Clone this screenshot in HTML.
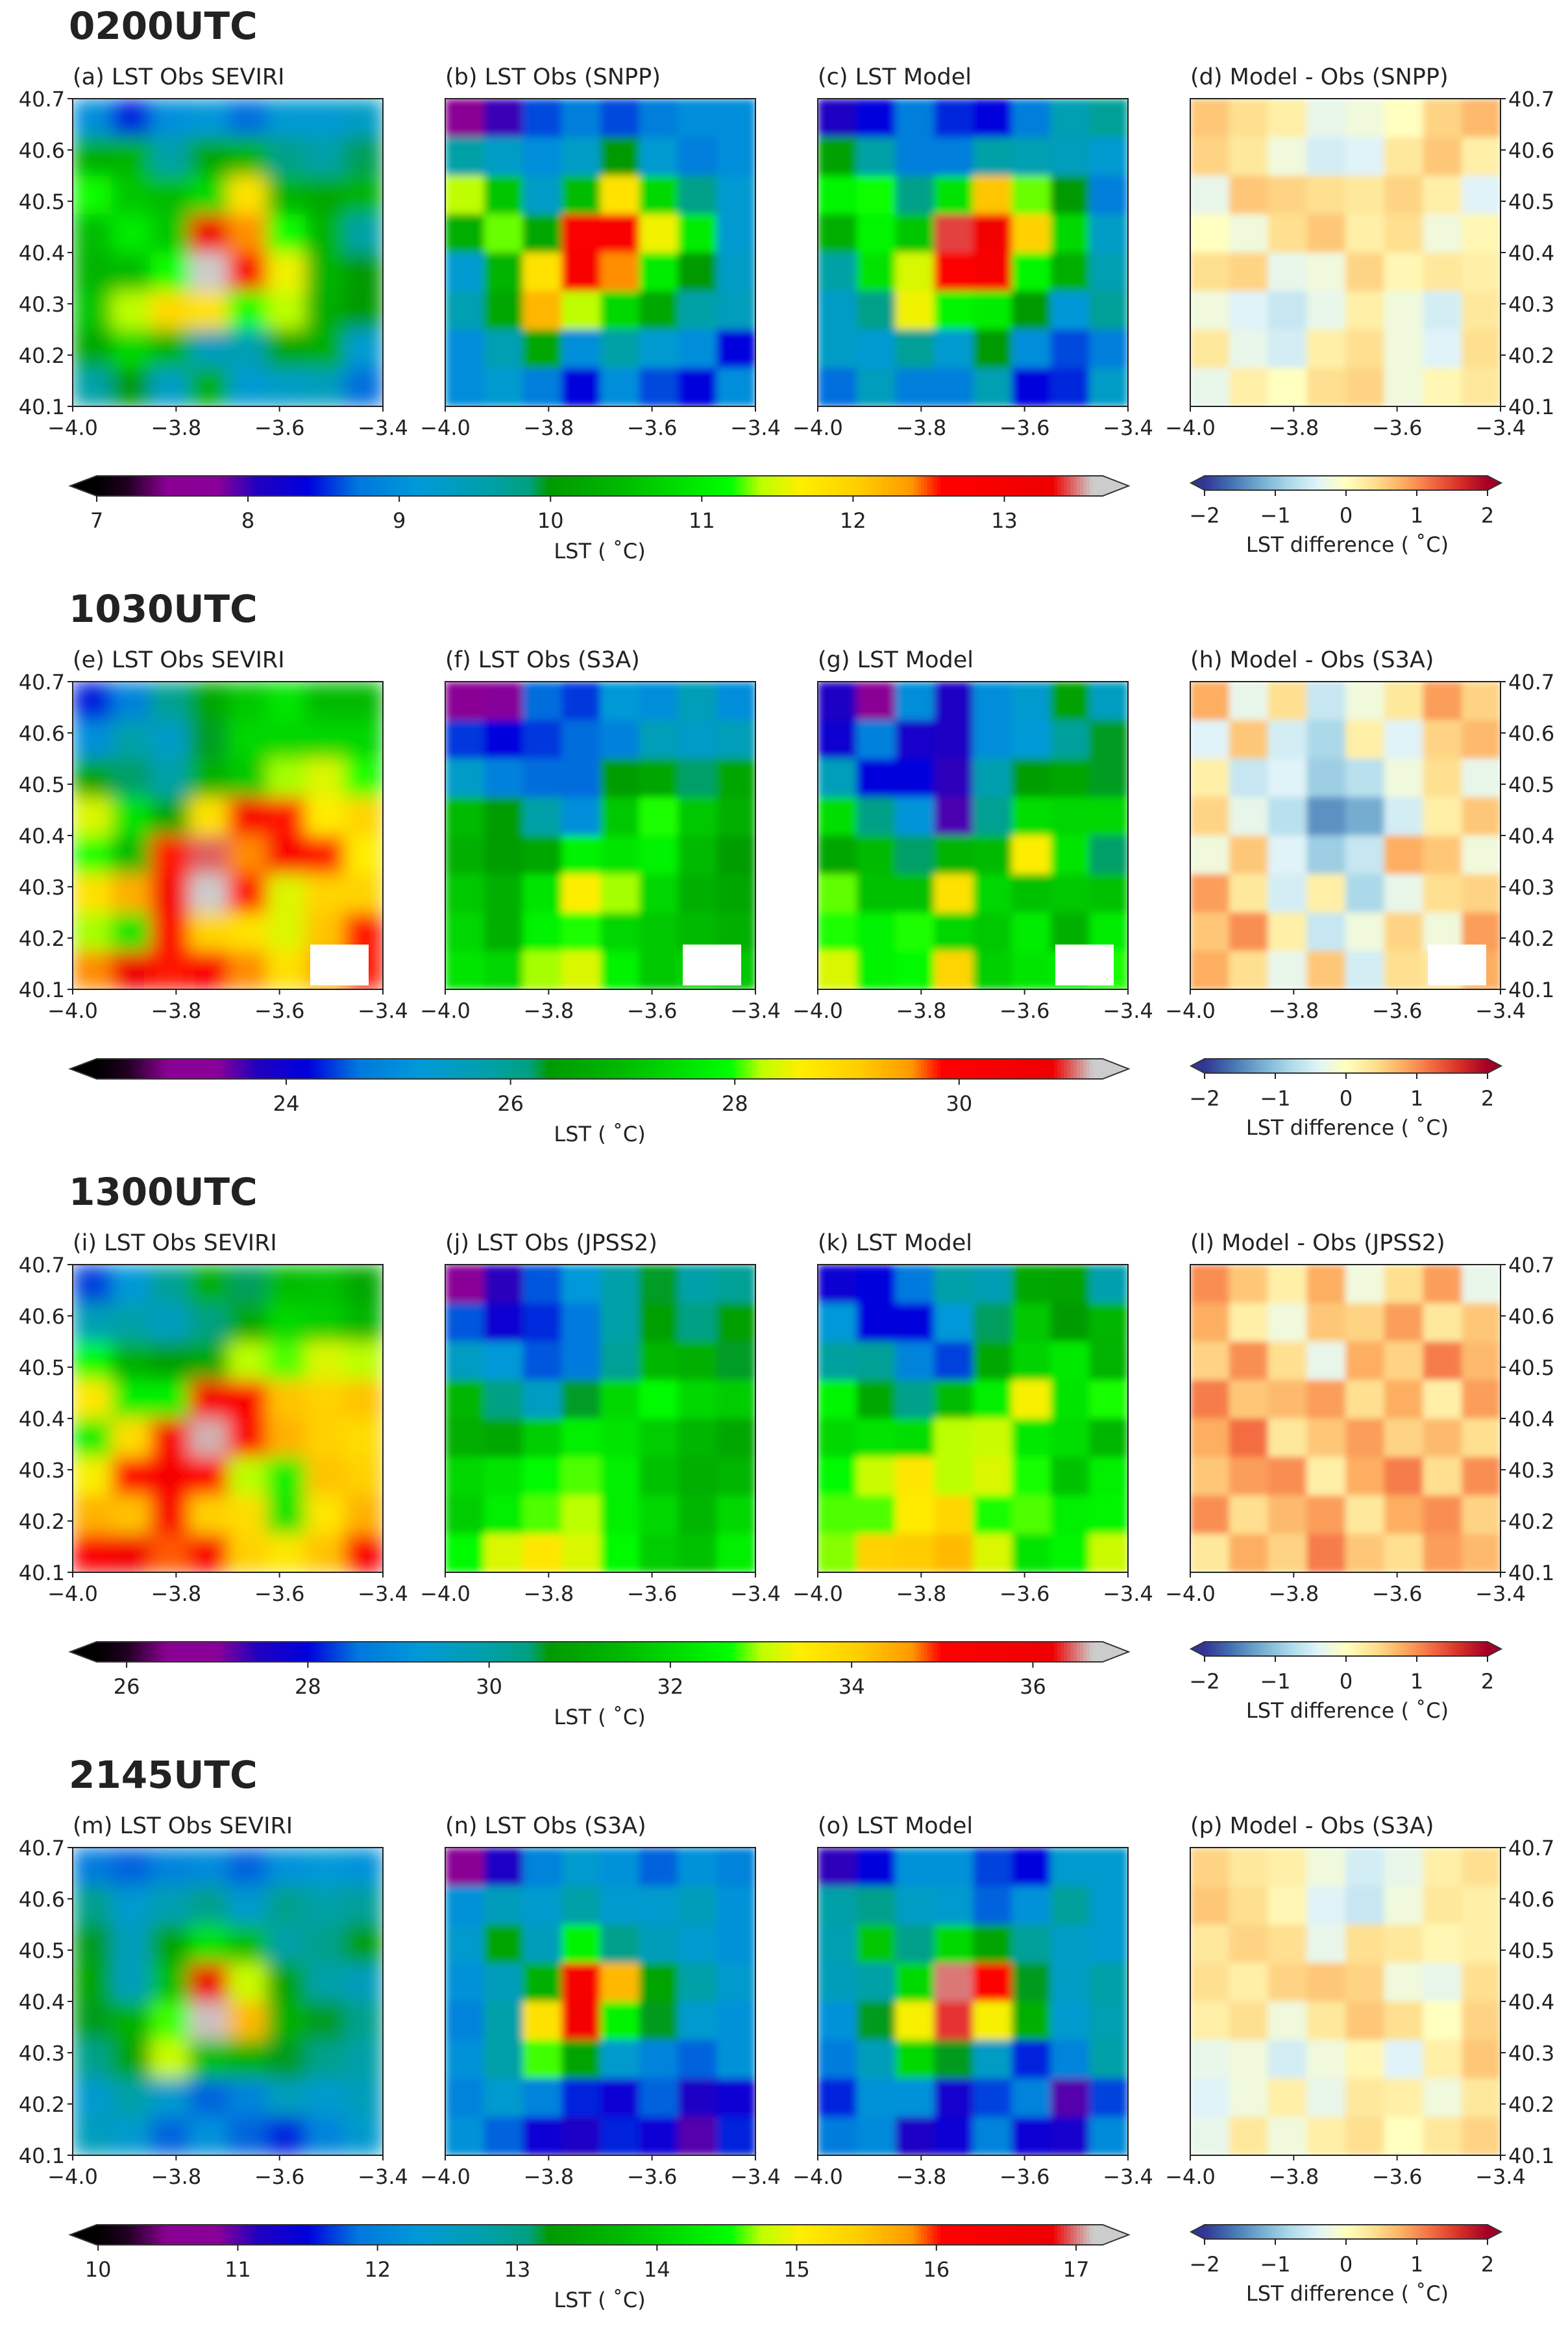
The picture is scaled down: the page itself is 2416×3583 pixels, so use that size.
<!DOCTYPE html>
<html><head><meta charset="utf-8">
<style>
html,body{margin:0;padding:0;background:#fff;}
svg text{font-family:"DejaVu Sans","Liberation Sans",sans-serif;fill:#222;}
</style></head>
<body>
<svg id="fig" xmlns="http://www.w3.org/2000/svg" width="2416" height="3578" viewBox="0 0 2416 3578">
<defs>
<filter id="blurS" x="0" y="0" width="1" height="1"><feGaussianBlur stdDeviation="14" edgeMode="duplicate"/></filter>
<filter id="blurO" x="0" y="0" width="1" height="1"><feGaussianBlur stdDeviation="6" edgeMode="duplicate"/></filter>
<filter id="blurD" x="0" y="0" width="1" height="1"><feGaussianBlur stdDeviation="5" edgeMode="duplicate"/></filter>
</defs>
</svg>
<script>
// ---------- data ----------
const rowTitles = ["0200UTC","1030UTC","1300UTC","2145UTC"];
const panelTitles = [
 ["(a) LST Obs SEVIRI","(b) LST Obs (SNPP)","(c) LST Model","(d) Model - Obs (SNPP)"],
 ["(e) LST Obs SEVIRI","(f) LST Obs (S3A)","(g) LST Model","(h) Model - Obs (S3A)"],
 ["(i) LST Obs SEVIRI","(j) LST Obs (JPSS2)","(k) LST Model","(l) Model - Obs (JPSS2)"],
 ["(m) LST Obs SEVIRI","(n) LST Obs (S3A)","(o) LST Model","(p) Model - Obs (S3A)"]];
const vmins = [7.0, 22.31, 25.67, 9.99];
const vmaxs = [13.65, 31.28, 36.77, 17.19];
const cbarTicks = [[7,8,9,10,11,12,13],[24,26,28,30],[26,28,30,32,34,36],[10,11,12,13,14,15,16,17]];
const diffTicks = [-2,-1,0,1,2];
const xTicks = [-4.0,-3.8,-3.6,-3.4];
const yTicks = [40.1,40.2,40.3,40.4,40.5,40.6,40.7];

const sevGrids = [
[[9.0,8.5,9.0,9.1,8.7,9.2,9.2,9.3],[10.3,10.4,9.6,10.2,10.4,9.8,9.6,9.9],[11.2,10.6,10.5,10.8,11.8,10.4,10.2,10.4],[10.5,11.0,10.6,13.2,12.4,11.2,10.4,9.6],[10.4,10.5,11.2,13.7,12.8,11.6,10.4,10.0],[10.6,11.4,11.9,11.8,11.2,11.4,10.3,10.0],[10.2,10.8,10.4,9.4,9.5,10.2,10.3,9.2],[9.6,10.0,9.3,10.3,9.2,9.3,9.4,8.7]],
[[24.3,24.8,26.0,26.6,27.2,27.6,27.0,27.0],[25.0,25.8,25.4,26.3,27.4,27.4,27.4,27.4],[26.6,26.2,25.8,26.8,27.2,28.2,28.4,28.0],[28.4,27.6,26.6,28.8,30.2,29.8,28.6,29.0],[28.0,27.0,29.8,31.0,29.6,30.2,29.8,28.6],[28.8,29.4,30.4,31.2,29.8,28.4,29.0,29.0],[28.2,27.6,30.0,29.0,28.8,28.4,29.2,29.8],[29.6,30.8,29.8,30.2,29.6,28.8,29.4,29.8]],
[[28.3,29.2,30.2,31.2,30.5,31.5,31.6,31.0],[29.8,30.0,29.6,30.4,31.0,32.0,31.8,31.4],[32.6,31.2,30.8,31.0,33.0,32.8,33.2,33.0],[33.6,32.4,32.4,35.6,35.2,34.2,34.0,34.2],[32.4,33.8,35.4,36.6,35.2,34.4,34.0,33.8],[33.4,35.0,35.6,35.0,33.0,32.4,34.2,34.0],[34.4,34.2,35.4,34.0,33.8,32.2,33.6,34.4],[35.2,36.0,34.8,35.4,34.0,33.6,34.2,35.2]],
[[11.9,11.8,12.0,12.1,11.8,12.2,12.3,12.2],[13.0,12.4,12.7,13.0,12.4,13.0,12.8,12.9],[13.2,12.6,13.4,14.2,13.8,12.8,13.0,13.3],[13.4,12.6,13.8,16.8,14.8,13.4,12.8,12.6],[13.2,13.6,14.6,17.1,15.6,13.6,13.2,13.0],[13.0,13.4,14.8,13.8,13.6,13.2,13.0,12.8],[12.4,12.8,12.4,11.8,12.0,12.6,12.4,12.6],[12.6,12.4,11.8,12.2,11.8,11.6,12.0,12.4]]];

const obsGrids = [
[[7.5,8.0,8.6,8.8,8.6,8.8,9.0,9.0],[9.6,9.3,9.0,9.3,10.0,9.2,8.8,9.0],[11.4,10.6,9.3,10.5,11.8,10.8,9.8,9.2],[10.3,11.3,10.2,12.8,12.9,11.6,11.0,9.2],[9.2,10.4,11.8,12.9,12.4,11.0,10.0,9.3],[9.5,10.2,12.2,11.4,10.8,10.2,9.6,9.4],[9.0,9.5,10.2,9.0,9.6,9.2,9.0,8.4],[9.0,9.2,8.8,8.4,9.0,8.6,8.4,9.0]],
[[23.0,23.4,24.6,24.4,25.2,25.0,25.6,25.0],[24.4,24.2,24.4,24.6,24.8,25.6,25.4,25.6],[25.4,24.8,24.6,24.6,26.4,26.6,26.2,26.6],[27.0,26.4,25.8,25.0,27.2,28.0,27.2,26.8],[26.8,26.4,26.6,27.8,27.6,27.8,27.0,26.4],[27.2,26.8,27.6,28.6,28.2,27.4,26.8,26.6],[27.4,26.8,27.8,28.0,27.4,27.2,27.0,26.8],[27.6,27.4,28.2,28.4,27.8,27.2,27.4,27.2]],
[[26.8,27.4,28.4,29.2,30.0,30.6,30.0,30.2],[28.4,27.8,28.2,28.6,30.0,30.8,30.4,30.8],[29.6,29.2,28.4,28.6,30.2,31.4,31.2,30.6],[31.4,30.4,29.6,30.6,32.0,32.6,32.0,31.8],[31.2,31.0,31.8,32.4,32.2,31.8,31.4,31.0],[32.0,32.2,32.6,32.8,32.4,31.6,31.2,31.4],[31.8,32.4,32.8,33.0,32.4,32.0,31.4,32.0],[32.6,33.2,33.6,33.2,32.6,31.8,31.6,32.4]],
[[10.6,11.2,12.0,12.4,12.2,11.8,12.2,12.0],[12.2,12.6,12.4,12.8,12.4,12.4,12.6,12.2],[12.4,13.4,12.6,14.4,13.0,12.6,12.4,12.2],[12.2,12.6,13.6,16.4,15.6,13.4,12.8,12.4],[12.0,12.8,15.2,16.6,14.4,13.2,12.4,12.2],[12.2,12.8,14.6,13.4,12.4,12.0,11.8,12.2],[12.0,12.4,12.0,11.6,11.4,11.8,11.2,11.4],[12.2,11.8,11.4,11.2,11.6,11.4,11.0,11.6]]];

const diffGrids = [
[[0.6,0.4,0.2,-0.3,-0.2,0.0,0.5,0.7],[0.5,0.3,-0.2,-0.5,-0.4,0.3,0.6,0.2],[-0.3,0.6,0.5,0.4,0.3,0.5,0.2,-0.4],[0.0,-0.2,0.4,0.6,0.2,0.4,-0.2,0.1],[0.4,0.5,-0.3,-0.2,0.5,0.1,0.3,0.2],[-0.2,-0.4,-0.6,-0.3,0.2,-0.2,-0.5,0.3],[0.3,-0.3,-0.5,0.2,0.4,-0.2,-0.4,0.4],[-0.3,0.2,0.0,0.4,0.5,-0.2,0.1,0.3]],
[[0.8,-0.3,0.4,-0.6,-0.2,0.3,0.9,0.5],[-0.4,0.6,-0.5,-0.8,0.2,-0.4,0.5,0.7],[0.2,-0.6,-0.4,-0.9,-0.7,-0.2,0.4,-0.3],[0.5,-0.3,-0.7,-1.4,-1.2,-0.5,0.2,0.6],[-0.2,0.6,-0.4,-0.9,-0.6,0.8,0.6,-0.2],[0.9,0.3,-0.5,0.2,-0.8,-0.3,0.4,0.5],[0.6,1.0,0.2,-0.6,-0.2,0.5,-0.2,0.9],[0.8,0.4,-0.3,0.6,-0.5,0.4,0.3,0.8]],
[[1.0,0.6,0.2,0.8,-0.2,0.4,0.9,-0.3],[0.8,0.2,-0.2,0.6,0.5,0.9,0.3,0.6],[0.5,1.0,0.4,-0.3,0.8,0.5,1.1,0.7],[1.1,0.6,0.7,0.9,0.4,0.8,0.2,0.9],[0.8,1.2,0.3,0.6,0.9,0.5,0.7,0.4],[0.6,0.9,1.0,0.2,0.8,1.1,0.4,1.0],[1.0,0.4,0.7,0.9,0.3,0.8,1.0,0.5],[0.3,0.8,0.5,1.1,0.6,0.4,0.9,0.7]],
[[0.5,0.3,0.2,-0.2,-0.5,-0.3,0.2,0.4],[0.6,0.4,0.1,-0.4,-0.6,-0.2,0.3,0.2],[0.3,0.5,0.4,-0.3,0.4,0.3,0.1,0.2],[0.4,0.2,0.5,0.6,0.5,-0.2,-0.3,0.4],[0.2,0.4,-0.2,0.3,0.6,0.4,0.0,0.5],[-0.3,-0.2,-0.5,-0.2,0.1,-0.4,0.2,0.6],[-0.4,-0.2,0.2,-0.3,0.3,0.2,-0.2,0.3],[-0.3,0.3,-0.2,0.2,0.4,0.0,0.3,0.5]]];

const missingRows = [false,true,false,false];

// ---------- colormaps (styling) ----------
const lstStops=[[0,"#000000"],[0.03,"#200020"],[0.07,"#8a0094"],[0.12,"#8a0098"],[0.16,"#2000c0"],[0.21,"#0000dd"],[0.26,"#0078dd"],[0.32,"#0099d8"],[0.39,"#00a0a8"],[0.43,"#00a080"],[0.45,"#009a00"],[0.52,"#00b800"],[0.63,"#00ff00"],[0.66,"#bbff00"],[0.70,"#ffee00"],[0.76,"#ffcc00"],[0.81,"#ff9900"],[0.84,"#ff0000"],[0.95,"#ee0000"],[0.99,"#cccccc"],[1,"#cccccc"]];
const divStops=[[0,"#313695"],[0.1,"#4575b4"],[0.2,"#74add1"],[0.3,"#abd9e9"],[0.4,"#e0f3f8"],[0.5,"#ffffbf"],[0.6,"#fee090"],[0.7,"#fdae61"],[0.8,"#f46d43"],[0.9,"#d73027"],[1,"#a50026"]];
function hx(c){return [parseInt(c.substr(1,2),16),parseInt(c.substr(3,2),16),parseInt(c.substr(5,2),16)];}
function cmap(stops,f){f=Math.max(0,Math.min(1,f));for(let i=1;i<stops.length;i++){if(f<=stops[i][0]){const a=stops[i-1],b=stops[i];const t=(f-a[0])/((b[0]-a[0])||1);const A=hx(a[1]),B=hx(b[1]);return "rgb("+A.map((v,k)=>Math.round(v+(B[k]-v)*t)).join(",")+")";}}return stops[stops.length-1][1];}

// ---------- layout ----------
const NS="http://www.w3.org/2000/svg";
const svg=document.getElementById("fig");
const PX=[112,686,1260,1834], PW=478, PH=474, PY0=152, RSTEP=898;
function el(tag,attrs,parent,txt){const e=document.createElementNS(NS,tag);for(const k in attrs)e.setAttribute(k,attrs[k]);if(txt!==undefined)e.textContent=txt;(parent||svg).appendChild(e);return e;}
function xScale(px,v){return px+PW*(v+4.0)/0.6;}
function yScale(py,v){return py+PH*(40.7-v)/0.6;}

let clipId=0;
function drawHeat(g,px,py,grid,colorFn,filt){
  const cid="clip"+(clipId++);
  const cp=el("clipPath",{id:cid},svg.querySelector("defs"));
  el("rect",{x:px,y:py,width:PW,height:PH},cp);
  const outer=el("g",{"clip-path":"url(#"+cid+")"},g);
  const inner=el("g",{filter:"url(#"+filt+")"},outer);
  const nr=grid.length,nc=grid[0].length,cw=PW/nc,ch=PH/nr;
  for(let r=0;r<nr;r++)for(let c=0;c<nc;c++){
    const rc=el("rect",{x:(px+c*cw).toFixed(2),y:(py+r*ch).toFixed(2),width:(cw+0.6).toFixed(2),height:(ch+0.6).toFixed(2),fill:colorFn(grid[r][c])},inner);
    
    
  }
}

for(let r=0;r<4;r++){
  const oy=r*RSTEP, py=PY0+oy;
  const rg=el("g",{});
  
  
  const t=el("text",{x:106,y:60+oy,"font-size":58,"font-weight":"bold"},rg,rowTitles[r]);
  
  
  const vmin=vmins[r],vmax=vmaxs[r];
  const lstColor=v=>cmap(lstStops,(v-vmin)/(vmax-vmin));
  const diffColor=v=>cmap(divStops,(v+2)/4);
  const modelGrid=obsGrids[r].map((row,i)=>row.map((v,j)=>v+diffGrids[r][i][j]));
  const grids=[sevGrids[r],obsGrids[r],modelGrid,diffGrids[r]];
  const fns=[lstColor,lstColor,lstColor,diffColor];
  const filts=["blurS","blurO","blurO","blurD"];
  for(let p=0;p<4;p++){
    const px=PX[p];
    const pg=el("g",{},rg);
    
    
    const tt=el("text",{x:px,y:130+oy,"font-size":35},pg,panelTitles[r][p]);
    
    
    drawHeat(pg,px,py,grids[p],fns[p],filts[p]);
    if(missingRows[r]){
      const mb=el("rect",{x:px+366,y:py+405,width:90,height:63,fill:"#ffffff"},pg);
      
      
    }
    const fr=el("rect",{x:px,y:py,width:PW,height:PH,fill:"none",stroke:"#222","stroke-width":2},pg);
    
    
    xTicks.forEach(v=>{
      const x=xScale(px,v);
      el("line",{x1:x,y1:py+PH,x2:x,y2:py+PH+8,stroke:"#222","stroke-width":2},pg);
      const lt=el("text",{x:x,y:py+PH+44,"font-size":32,"text-anchor":"middle"},pg,(v<0?"\u2212":"")+Math.abs(v).toFixed(1));
      
      
    });
    if(p===0||p===3){
      yTicks.forEach(v=>{
        const y=yScale(py,v);
        if(p===0){
          el("line",{x1:px-8,y1:y,x2:px,y2:y,stroke:"#222","stroke-width":2},pg);
          const lt=el("text",{x:px-12,y:y+12,"font-size":32,"text-anchor":"end"},pg,v.toFixed(1));
          
          
        } else {
          el("line",{x1:px+PW,y1:y,x2:px+PW+8,y2:y,stroke:"#222","stroke-width":2},pg);
          const lt=el("text",{x:px+PW+12,y:y+12,"font-size":32},pg,v.toFixed(1));
          
          
        }
      });
    }
  }
  // main colorbar
  const cg=el("g",{},rg);
  
  
  const bx0=149,bx1=1699,by0=733+oy,by1=764+oy,tipL=108,tipR=1739;
  el("polygon",{points:`${bx0},${by0} ${tipL},${(by0+by1)/2} ${bx0},${by1}`,fill:cmap(lstStops,0)},cg);
  el("polygon",{points:`${bx1},${by0} ${tipR},${(by0+by1)/2} ${bx1},${by1}`,fill:cmap(lstStops,1)},cg);
  const N=310;
  for(let i=0;i<N;i++){el("rect",{x:bx0+(bx1-bx0)*i/N,y:by0,width:(bx1-bx0)/N+0.8,height:by1-by0,fill:cmap(lstStops,(i+0.5)/N)},cg);}
  el("polygon",{points:`${tipL},${(by0+by1)/2} ${bx0},${by0} ${bx1},${by0} ${tipR},${(by0+by1)/2} ${bx1},${by1} ${bx0},${by1}`,fill:"none",stroke:"#333","stroke-width":2},cg);
  cbarTicks[r].forEach(v=>{
    const x=bx0+(bx1-bx0)*(v-vmins[r])/(vmaxs[r]-vmins[r]);
    el("line",{x1:x,y1:by1,x2:x,y2:by1+9,stroke:"#222","stroke-width":2},cg);
    const lt=el("text",{x:x,y:813+oy,"font-size":32,"text-anchor":"middle"},cg,String(v));
    
    
  });
  const cl=el("text",{x:924,y:860+oy,"font-size":32,"text-anchor":"middle"},cg,"LST ( \u02DAC)");
  
  
  // diff colorbar
  const dg=el("g",{},rg);
  
  
  const dx0=1856,dx1=2292,dy0=733+oy,dy1=755+oy,dl=1835,dr=2313;
  el("polygon",{points:`${dx0},${dy0} ${dl},${(dy0+dy1)/2} ${dx0},${dy1}`,fill:cmap(divStops,0)},dg);
  el("polygon",{points:`${dx1},${dy0} ${dr},${(dy0+dy1)/2} ${dx1},${dy1}`,fill:cmap(divStops,1)},dg);
  for(let i=0;i<120;i++){el("rect",{x:dx0+(dx1-dx0)*i/120,y:dy0,width:(dx1-dx0)/120+0.8,height:dy1-dy0,fill:cmap(divStops,(i+0.5)/120)},dg);}
  el("polygon",{points:`${dl},${(dy0+dy1)/2} ${dx0},${dy0} ${dx1},${dy0} ${dr},${(dy0+dy1)/2} ${dx1},${dy1} ${dx0},${dy1}`,fill:"none",stroke:"#333","stroke-width":2},dg);
  diffTicks.forEach(v=>{
    const x=dx0+(dx1-dx0)*(v+2)/4;
    el("line",{x1:x,y1:dy1,x2:x,y2:dy1+9,stroke:"#222","stroke-width":2},dg);
    const lt=el("text",{x:x,y:805+oy,"font-size":32,"text-anchor":"middle"},dg,(v<0?"\u2212":"")+Math.abs(v));
    
    
  });
  const dl2=el("text",{x:2076,y:850+oy,"font-size":32,"text-anchor":"middle"},dg,"LST difference ( \u02DAC)");
  
  
}
</script>
</body></html>
